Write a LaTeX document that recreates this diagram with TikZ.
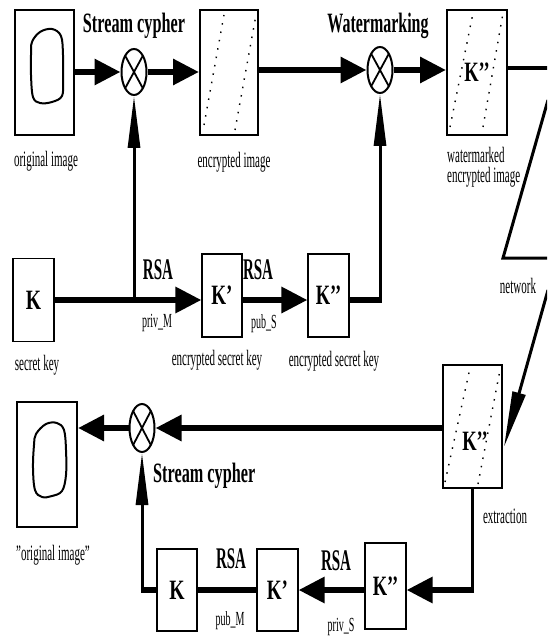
\documentclass[tikz,border=0pt]{standalone}
\usepackage{fontspec}
\setmainfont{Liberation Serif}
\usepackage{graphicx}
\usetikzlibrary{shapes.geometric,arrows.meta,calc}
\newcommand{\sx}[2]{\scalebox{#1}[1]{#2}}
\begin{document}
\begin{tikzpicture}[x=1pt,y=-1pt,
 imgbox/.style={draw,line width=2pt,inner sep=0pt,minimum width=59pt,minimum height=125pt},
 keybox/.style={draw,line width=1.1pt,inner sep=0pt,minimum width=41pt,minimum height=83pt,font=\fontsize{28}{28}\selectfont\bfseries},
 xorop/.style={ellipse,draw,line width=2pt,inner sep=0pt,minimum width=25pt,minimum height=46pt,
   path picture={\draw[line width=1.8pt] (path picture bounding box.north west)--(path picture bounding box.south east)
   (path picture bounding box.north east)--(path picture bounding box.south west);}},
 hflow/.style={line width=6pt},
 vflow/.style={line width=3pt},
 harrow/.style={-{Triangle[length=26pt,width=25pt]}},
 varrow/.style={-{Triangle[length=52pt,width=12pt]}},
 big/.style={inner sep=0pt,font=\fontsize{28}{28}\selectfont\bfseries},
 rsa/.style={inner sep=0pt,font=\fontsize{30}{30}\selectfont\bfseries},
 small/.style={inner sep=0pt,font=\fontsize{22}{22}\selectfont},
 tiny/.style={inner sep=0pt,font=\fontsize{20}{20}\selectfont},
 dotline/.style={line width=1.4pt,dash pattern=on 1.5pt off 7pt},
 netline/.style={line width=3pt,line join=miter}
]
\useasboundingbox (0,0) rectangle (547,636);
\clip (0,0) rectangle (547,636);
\fill[white] (0,0) rectangle (547,636);

% ---------- top row ----------
\node[imgbox] (A) at (44.5,72.5) {};
\node[xorop] (X1) at (134,72) {};
\node[imgbox,minimum width=58pt] (B) at (229,72.5) {};
\node[xorop] (X2) at (380,70) {};
\node[imgbox,minimum width=60pt,font=\fontsize{28}{28}\selectfont\bfseries] (C) at (477,72.5) {\sx{0.66}{K’’}};

\draw[line width=2pt] plot[smooth cycle,tension=0.6] coordinates {(32,42) (40,32) (52,29) (61,36) (63,55) (63,80) (62,96) (52,102) (40,103) (33,97) (31,75) (31,55)};
\draw[dotline] (204,125) -- (224,15);
\draw[dotline] (235,130) -- (256,15);
\draw[dotline] (450,127) -- (473,13);
\draw[dotline] (483,127) -- (503,13);

\draw[hflow,harrow] (A.east |- X1) -- (X1.west);
\draw[hflow,harrow] (X1.east) -- (B.west |- X1.east);
\draw[hflow,harrow] (X2.west -| B.east) -- (X2.west);
\draw[hflow,harrow] (X2.east) -- (C.west |- X2.east);

\coordinate (netA) at (548,68);
\draw[line width=4pt] (C.east |- netA) -- (netA);
\coordinate (n1) at (548,100);
\coordinate (n2) at (503,258);
\coordinate (n3) at (548,258);
\draw[netline] (n1) -- (n2) -- (n3);
\coordinate (n4) at (548,290);
\coordinate (n5) at (504,447);
\draw[netline,-{Triangle[length=56pt,width=13pt]}] (n4) -- (n5);

\node[big,anchor=base] (t1) at (134,33) {\sx{0.58}{Stream cypher}};
\node[big,anchor=base] (t2) at (378,33) {\sx{0.57}{Watermarking}};
\node[small,anchor=base] (t3) at (46,167) {\sx{0.5}{original image}};
\node[small,anchor=base] (t4) at (234,168) {\sx{0.5}{encrypted image}};
\node[small,anchor=base west] (t5) at (447,163) {\sx{0.5}{watermarked}};
\node[small,anchor=base west] (t6) at (447,183) {\sx{0.5}{encrypted image}};
\node[small,anchor=base] (t7) at (518,293) {\sx{0.5}{network}};

% ---------- middle row ----------
\node[keybox] (K) at (33.5,300) {\sx{0.7}{K}};
\node[keybox,minimum width=40pt] (K1) at (222,295.5) {\sx{0.68}{K’}};
\node[keybox] (K2) at (328.5,295.5) {\sx{0.66}{K’’}};

\coordinate (J) at (X1 |- K.east);
\draw[hflow,harrow] (K.east) -- (K1.west |- K.east);
\draw[vflow,varrow] (J) -- (X1.south);
\draw[hflow,harrow] (K1.east |- K.east) -- (K2.west |- K.east);
\coordinate (c2) at (X2 |- K.east);
\draw[hflow] (K2.east |- K.east) -- ([xshift=1.5pt]c2);
\draw[vflow,varrow] (c2) -- (X2.south);

\node[rsa,anchor=base] (r1) at (158,279) {\sx{0.5}{RSA}};
\node[rsa,anchor=base] (r2) at (258,279) {\sx{0.5}{RSA}};
\node[tiny,anchor=base] (t8) at (157,327) {\sx{0.5}{priv\_M}};
\node[tiny,anchor=base] (t9) at (264,328) {\sx{0.5}{pub\_S}};
\node[small,anchor=base] (t10) at (37,370) {\sx{0.5}{secret key}};
\node[small,anchor=base] (t11) at (217,365) {\sx{0.5}{encrypted secret key}};
\node[small,anchor=base] (t12) at (334,366) {\sx{0.5}{encrypted secret key}};

% ---------- bottom ----------
\node[imgbox,minimum height=123pt] (D) at (472.5,426.5) {};
\draw[dotline] (445,482) -- (470,368);
\draw[dotline] (478,484) -- (500,370);
\node[inner sep=0pt,font=\fontsize{28}{28}\selectfont\bfseries] (Dlab) at (475,441) {\sx{0.66}{K’’}};
\node[xorop,minimum height=48pt] (X3) at (142,428) {};
\node[imgbox,minimum width=60pt] (E) at (47,464.5) {};
\draw[line width=2pt] plot[smooth cycle,tension=0.6] coordinates {(36,434) (46,424) (57,423) (64,430) (66,450) (66,475) (62,491) (52,496) (42,497) (35,490) (33,468) (34,445)};

\node[keybox,minimum width=40pt,minimum height=82pt] (Kb) at (177,590) {\sx{0.7}{K}};
\node[keybox,minimum height=82pt] (Kb1) at (277.5,590) {\sx{0.68}{K’}};
\node[keybox,minimum height=86pt] (Kb2) at (385.5,586) {\sx{0.66}{K’’}};

\draw[hflow,harrow] (X3.east -| D.west) -- (X3.east);
\draw[hflow,harrow] (X3.west) -- (E.east |- X3.west);
\coordinate (c3) at (X3 |- Kb.west);
\draw[hflow] (Kb.west) -- ([xshift=-1.5pt]c3);
\draw[vflow,varrow] (c3) -- (X3.south);
\draw[hflow] (Kb.east) -- (Kb1.west);
\draw[hflow,harrow] (Kb2.west |- Kb1.east) -- (Kb1.east);
\coordinate (c4) at (D.south |- Kb.east);
\draw[vflow] (D.south) -- (c4);
\draw[hflow,harrow] ([xshift=1.5pt]c4) -- (Kb2.east |- c4);

\node[big,anchor=base west] (t13) at (153,482) {\sx{0.58}{Stream cypher}};
\node[small,anchor=base] (t14) at (53,560) {\sx{0.5}{"original image"}};
\node[rsa,anchor=base] (r3) at (231,568) {\sx{0.5}{RSA}};
\node[tiny,anchor=base] (t16) at (230,625) {\sx{0.5}{pub\_M}};
\node[rsa,anchor=base] (r4) at (336,570) {\sx{0.5}{RSA}};
\node[tiny,anchor=base] (t18) at (341,631) {\sx{0.5}{priv\_S}};
\node[small,anchor=base] (t19) at (505,523) {\sx{0.5}{extraction}};
\end{tikzpicture}
\end{document}
